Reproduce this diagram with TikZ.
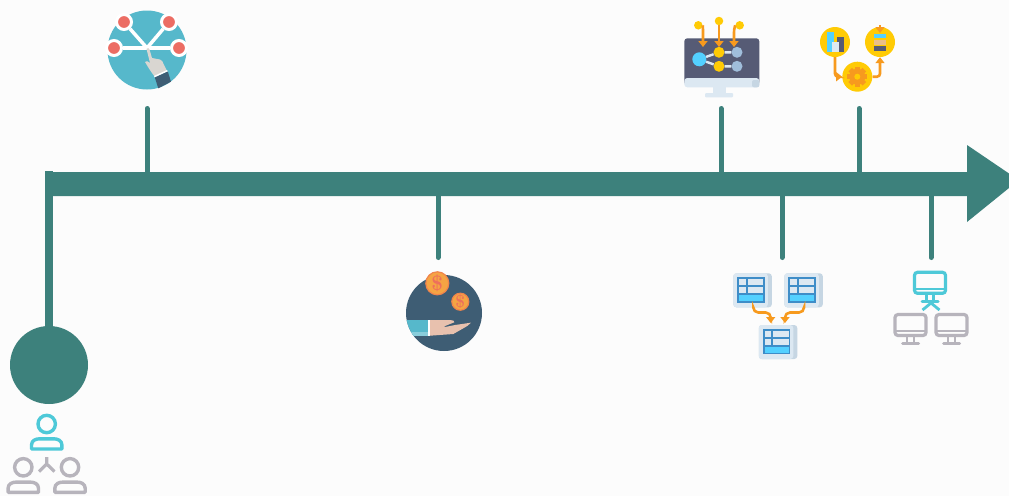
\documentclass[tikz,border=0pt]{standalone}
\usepackage{xcolor}
\usetikzlibrary{arrows.meta}
\definecolor{bgpage}{HTML}{FCFCFC}
\definecolor{axisteal}{HTML}{3D817C}
\definecolor{aqua}{HTML}{56B8CB}
\definecolor{coral}{HTML}{EC6D64}
\definecolor{handgrey}{HTML}{D9D6D1}
\definecolor{navy}{HTML}{3E5D74}
\definecolor{slate}{HTML}{565B75}
\definecolor{paleblue}{HTML}{DCE8F2}
\definecolor{shadeblue}{HTML}{C6D6E3}
\definecolor{skyblue}{HTML}{53D0FF}
\definecolor{gold}{HTML}{FFCB05}
\definecolor{orangeline}{HTML}{F79A1E}
\definecolor{greyblue}{HTML}{A0BEDB}
\definecolor{coin}{HTML}{F5A443}
\definecolor{coinedge}{HTML}{F0844C}
\definecolor{coinmark}{HTML}{EE6F5C}
\definecolor{skin}{HTML}{E8C1AE}
\definecolor{tableline}{HTML}{3E8DC8}
\definecolor{lineaqua}{HTML}{4EC9D8}
\definecolor{linegrey}{HTML}{B7B4BC}
\tikzset{
  stem/.style={draw=axisteal, line width=5pt, line cap=round},
  ringdot/.style={circle, fill=coral, draw=white, line width=3pt, minimum size=15pt, inner sep=0pt},
  flowdot/.style={circle, fill=#1, minimum size=11pt, inner sep=0pt},
  coindot/.style={circle, fill=coin, draw=coinedge, line width=1.2pt, inner sep=0pt},
  orangearrow/.style={draw=orangeline, line width=2.6pt, rounded corners=3pt, -{Triangle[length=6pt,width=9pt]}},
  pics/tablepanel/.style={code={
    \fill[shadeblue, rounded corners=3pt] (0,0) rectangle (38.5,34);
    \fill[paleblue, rounded corners=3pt] (0,0) -- (34.5,0) -- (34.5,34) -- (0,34) -- cycle;
    \fill[skyblue] (5,20.7) rectangle (30.7,28.4);
    \draw[tableline, line width=1.8pt] (5,5) rectangle (30.7,28.4);
    \draw[tableline, line width=1.8pt] (5,13) -- (30.7,13) (5,20.7) -- (30.7,20.7) (13.3,5) -- (13.3,20.7);
  }},
  pics/personicon/.style={code={
    \draw[#1, line width=3.4pt] (0,0) circle (8.7);
    \draw[#1, line width=3.4pt, line join=round] (-15.2,25) -- (-15.2,21) .. controls (-15.2,16.5) and (-11,14.8) .. (-7,14.8) -- (7,14.8) .. controls (11,14.8) and (15.2,16.5) .. (15.2,21) -- (15.2,25) -- cycle;
  }},
  pics/monitoricon/.style={code={
    \draw[#1, line width=3.2pt, rounded corners=3pt] (0,0) rectangle (31,21);
    \draw[#1, line width=2.4pt] (0,16.5) -- (31,16.5);
    \draw[#1, line width=2.6pt] (12,21) -- (12,28) (19,21) -- (19,28);
    \draw[#1, line width=3pt, line cap=round] (7.5,29) -- (23.5,29);
  }}
}
\begin{document}
\begin{tikzpicture}[x=1pt,y=-1pt]
\useasboundingbox (0,0) rectangle (1009,496);
\fill[bgpage] (0,0) rectangle (1009,496);

% main axis
\fill[axisteal] (50,172) -- (967,172) -- (967,145) -- (1009,173.5) -- (1009,188) -- (967,222) -- (967,196) -- (50,196) -- cycle;
\node[circle, fill=axisteal, minimum size=78pt, inner sep=0pt] (startdot) at (49,365) {};
\coordinate (axisstart) at (49,171);
\draw[axisteal, line width=8pt] (axisstart) -- (startdot);

% stems
\coordinate (axisA) at (147,173);  \coordinate (tipA) at (147,108.5);
\coordinate (axisB) at (721,173);  \coordinate (tipB) at (721,108.5);
\coordinate (axisC) at (859,173);  \coordinate (tipC) at (859,108.5);
\coordinate (axisD) at (438,195);  \coordinate (tipD) at (438,257.5);
\coordinate (axisE) at (782,195);  \coordinate (tipE) at (782,257.5);
\coordinate (axisF) at (931,195);  \coordinate (tipF) at (931,257.5);
\foreach \k in {A,B,C,D,E,F} \draw[stem] (axis\k) -- (tip\k);

% touch network
\fill[aqua] (147,50) circle (39.5);
\coordinate (hub) at (147,48);
\node[ringdot] (leafA) at (124,22) {};
\node[ringdot] (leafB) at (169,22) {};
\node[ringdot] (leafC) at (114,48) {};
\node[ringdot] (leafD) at (179,48) {};
\foreach \k in {A,B,C,D} \draw[white, line width=3.5pt] (hub) -- (leaf\k);
\fill[handgrey] (146.5,49) .. controls (147.5,47.5) and (149,48) .. (149.5,49.5) -- (152,58) -- (160,59.5) .. controls (162,60) and (163,62) .. (163.5,64) -- (167,71) -- (155,77) .. controls (151,72) and (148,67) .. (145,62) .. controls (146,60.5) and (148,61) .. (150,63) -- cycle;
\fill[white] (154,76) -- (167,70) -- (167.8,71.5) -- (154.8,77.5) -- cycle;
\fill[navy] (154.8,77.5) -- (167.8,71.5) -- (171,81.7) -- (158.3,88.3) -- cycle;

% monitor with flow
\fill[slate, rounded corners=3pt] (684.3,38.3) rectangle (759.3,85);
\fill[paleblue, rounded corners=3pt] (684.3,78) rectangle (759.3,87.3);
\fill[shadeblue, rounded corners=2pt] (752,80) rectangle (759.3,87.3);
\fill[paleblue] (713,87.3) rectangle (726,93);
\fill[paleblue, rounded corners=1pt] (705,93) rectangle (733,97.3);
\node[flowdot=skyblue, minimum size=14pt] (srcdot) at (699.3,59.3) {};
\node[flowdot=gold] (midA) at (719,52.3) {};
\node[flowdot=gold] (midB) at (719,66.3) {};
\node[flowdot=greyblue] (endA) at (737,52.3) {};
\node[flowdot=greyblue] (endB) at (737,66.3) {};
\draw[paleblue, line width=2.4pt] (srcdot) -- (midA) (srcdot) -- (midB) (midA) -- (endA) (midB) -- (endB);
\coordinate (inA) at (703,47);
\coordinate (inB) at (719,47);
\coordinate (inC) at (734,47);
\node[flowdot=gold, minimum size=8.5pt] (topA) at (698.3,25.3) {};
\node[flowdot=gold, minimum size=8.5pt] (topB) at (719,21) {};
\node[flowdot=gold, minimum size=8.5pt] (topC) at (739.7,25.3) {};
\draw[orangearrow] (topA.east) -- (703,29) -- (inA);
\draw[orangearrow] (topB) -- (inB);
\draw[orangearrow] (topC.west) -- (734,29) -- (inC);

% chart, gear and stack
\node[flowdot=gold, minimum size=30pt] (chartdot) at (835,42) {};
\node[flowdot=gold, minimum size=30pt] (stackdot) at (880,42) {};
\node[flowdot=gold, minimum size=30pt] (geardot) at (857.3,76.7) {};
\fill[skyblue] (826.7,32.3) rectangle (834,51.7);
\fill[slate] (836.7,37.3) rectangle (844,51.7);
\fill[paleblue] (831.7,42.3) rectangle (839,51.7);
\fill[skyblue] (874,34) rectangle (886,38.3);
\fill[coin!60!paleblue] (874,40) rectangle (886,44.7);
\fill[slate] (874,46) rectangle (886,50.7);
\begin{scope}[shift={(857.3,76.7)}]
\foreach \a in {0,45,...,135} \fill[orangeline, rotate=\a] (-2.5,-10) rectangle (2.5,10);
\fill[orangeline] (0,0) circle (8);
\fill[gold] (0,0) circle (3);
\end{scope}
\coordinate (inS) at (880,33);
\coordinate (topS) at (880,25);
\draw[orangearrow] (topS) -- (inS);
\draw[orangearrow] (chartdot) -- (835,76.7) -- (geardot);
\draw[orangearrow] (geardot) -- (880,76.7) -- (stackdot);

% hand with coins
\fill[navy] (444,313) circle (38);
\begin{scope}
\clip (444,313) circle (38);
\fill[aqua] (405,320) rectangle (428.3,335.7);
\fill[aqua!70!white] (405,332) rectangle (428.3,336);
\end{scope}
\fill[white] (428.3,320) rectangle (430,336);
\fill[skin] (430,320) -- (450,320) .. controls (453,320) and (455,321) .. (454.3,322.3) -- (445,326) -- (443.7,327.3) -- (455,325) -- (471,322.7) .. controls (469,325) and (466,327) .. (463.3,328.3) -- (453.3,334) -- (430,335.7) -- cycle;
\node[coindot, minimum size=23pt] (coinA) at (437.3,283.3) {};
\node[coindot, minimum size=17pt] (coinB) at (460.3,301.7) {};
\node[text=coinmark, font=\bfseries\huge, inner sep=0pt] (markA) at (coinA) {\$};
\node[text=coinmark, font=\bfseries\LARGE, inner sep=0pt] (markB) at (coinB) {\$};

% merged tables
\pic at (733.3,273.3) {tablepanel};
\pic at (784.3,273.3) {tablepanel};
\pic at (758.8,325) {tablepanel};
\coordinate (tabA) at (753.3,308);  \coordinate (tabB) at (804,308);
\coordinate (tabM) at (770.7,323);  \coordinate (tabN) at (785,323);
\draw[orangearrow, rounded corners=5pt] (tabA) -- (753.3,312.5) -- (770.7,312.5) -- (tabM);
\draw[orangearrow, rounded corners=5pt] (tabB) -- (804,312.5) -- (785,312.5) -- (tabN);

% user and shared accounts
\pic at (46.7,424) {personicon=lineaqua};
\pic at (23.3,467.3) {personicon=linegrey};
\pic at (70,467.3) {personicon=linegrey};
\coordinate (forkT) at (46.7,457);  \coordinate (forkM) at (46.7,464);
\coordinate (forkL) at (39,471.5);  \coordinate (forkR) at (54.5,471.5);
\draw[linegrey, line width=3.2pt] (forkT) -- (forkM) (forkL) -- (forkM) -- (forkR);

% screens
\pic at (914.5,272.3) {monitoricon=lineaqua};
\pic at (895,314.5) {monitoricon=linegrey};
\pic at (936,314.5) {monitoricon=linegrey};
\coordinate (crossT) at (931,303);
\coordinate (crossL) at (922.5,310);  \coordinate (crossR) at (939.5,310);
\draw[lineaqua, line width=2.8pt] (crossL) -- (crossT) -- (crossR);
\end{tikzpicture}
\end{document}
